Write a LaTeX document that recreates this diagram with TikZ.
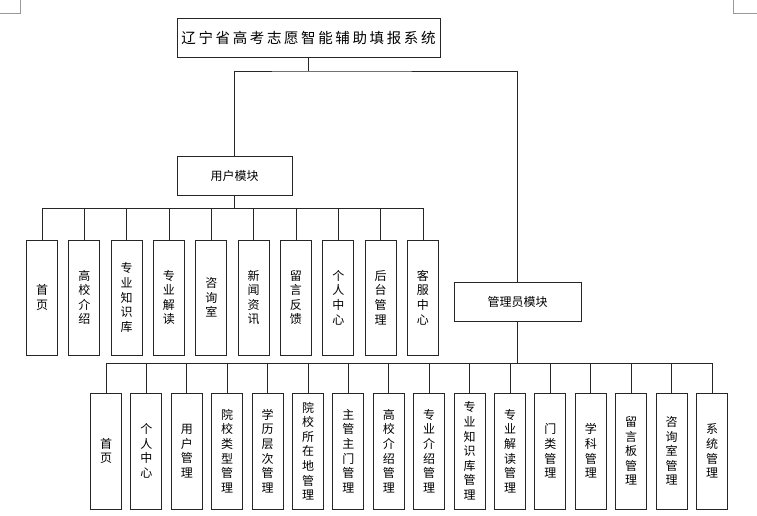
\documentclass[tikz,border=0pt]{standalone}
\usepackage{fontspec}
\setmainfont{Noto Sans CJK SC}
\begin{document}
\begin{tikzpicture}[x=1pt,y=-1pt,
  box/.style={draw=black!85,line width=0.9pt,fill=white,inner sep=0pt,align=center},
  vbox/.style={box,minimum width=31pt,minimum height=115pt,font=\fontsize{12}{14.6}\selectfont},
  hbox/.style={box,minimum height=39pt,font=\fontsize{12}{14}\selectfont},
  link/.style={draw=black!85,line width=0.9pt},
  cornermark/.style={draw=black!40,line width=0.8pt}]
\useasboundingbox (0,0) rectangle (757,515);
% page corner marks
\draw[cornermark] (20,0) -- (20,13) -- (0,13);
\draw[cornermark] (733,0) -- (733,13) -- (757,13);
% top
\node[hbox,minimum width=263pt,font=\fontsize{14.5}{16}\selectfont\addfontfeatures{LetterSpace=18}] (top) at (308.5,37.5) {辽宁省高考志愿智能辅助填报系统};
\node[hbox,minimum width=115pt] (user) at (234.5,175.5) {用户模块};
\node[hbox,minimum width=127pt] (admin) at (517.5,301.5) {管理员模块};
\coordinate (topbus) at (308.5,71);
\coordinate (ubus) at (234.5,208);
\coordinate (abus) at (517.5,363);
\draw[link] (top.south) -- (topbus);
\draw[link] (user.north) |- (topbus) -| (admin.north);
% user children
\foreach \t [count=\i from 0] in {{首\\页},{高\\校\\介\\绍},{专\\业\\知\\识\\库},{专\\业\\解\\读},{咨\\询\\室},{新\\闻\\资\\讯},{留\\言\\反\\馈},{个\\人\\中\\心},{后\\台\\管\\理},{客\\服\\中\\心}}{
  \node[vbox] (u\i) at ({42+42.33*\i},297.5) {\t};
  \draw[link] (u\i.north) -- (u\i.north |- ubus);
}
\draw[link] (user.south) -- (ubus);
\draw[link] (u0.north |- ubus) -- (u9.north |- ubus);
% admin children
\foreach \t [count=\i from 0] in {{首\\页},{个\\人\\中\\心},{用\\户\\管\\理},{院\\校\\类\\型\\管\\理},{学\\历\\层\\次\\管\\理},{院\\校\\所\\在\\地\\管\\理},{主\\管\\主\\门\\管\\理},{高\\校\\介\\绍\\管\\理},{专\\业\\介\\绍\\管\\理},{专\\业\\知\\识\\库\\管\\理},{专\\业\\解\\读\\管\\理},{门\\类\\管\\理},{学\\科\\管\\理},{留\\言\\板\\管\\理},{咨\\询\\室\\管\\理},{系\\统\\管\\理}}{
  \node[vbox,minimum height=116pt] (a\i) at ({106+40.4*\i},451) {\t};
  \draw[link] (a\i.north) -- (a\i.north |- abus);
}
\draw[link] (admin.south) -- (abus);
\draw[link] (a0.north |- abus) -- (a15.north |- abus);
\end{tikzpicture}
\end{document}
